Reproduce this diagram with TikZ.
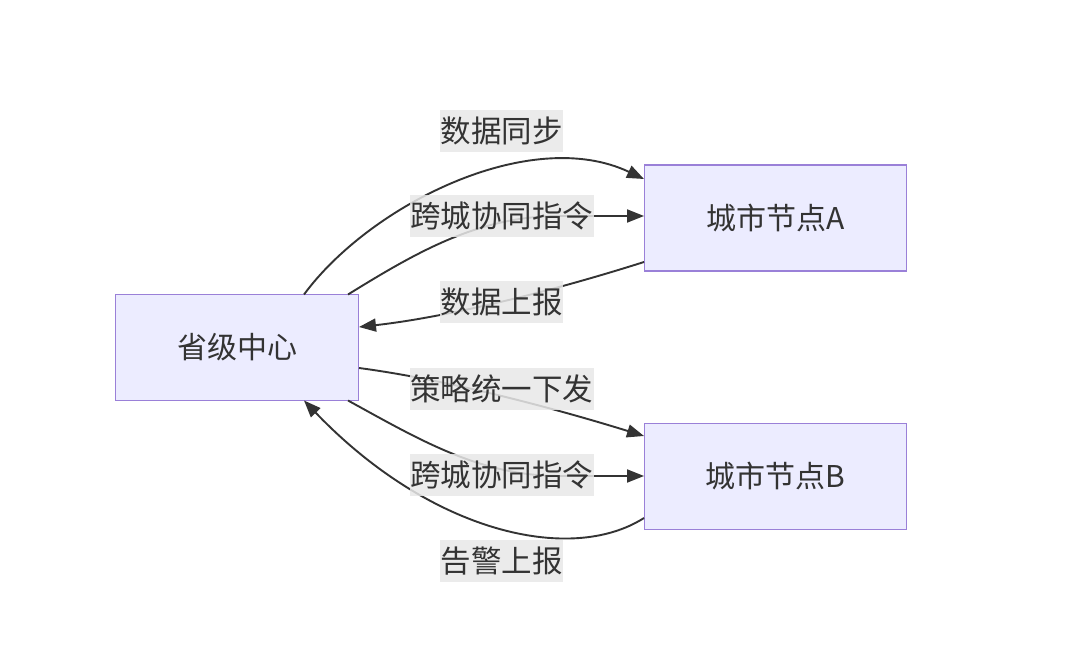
\documentclass[tikz,border=0pt]{standalone}
\usepackage{fontspec}
\setmainfont{Noto Sans CJK SC}
\usetikzlibrary{arrows.meta}
\definecolor{nodefill}{HTML}{ECECFF}
\definecolor{nodeborder}{HTML}{9A80D8}
\definecolor{edgecol}{HTML}{333333}
\definecolor{lblfill}{HTML}{E8E8E8}
\begin{document}
\begin{tikzpicture}[x=1pt,y=-1pt,
  box/.style={draw=nodeborder,fill=nodefill,line width=1.8pt,minimum width=243pt,minimum height=106pt,inner sep=0pt,font=\fontsize{30}{36}\selectfont,text=edgecol},
  boxr/.style={box,minimum width=262pt},
  lbl/.style={fill=lblfill,fill opacity=0.85,text opacity=1,inner xsep=0.5pt,inner ysep=0pt,minimum height=42pt,font=\fontsize{30.5}{36}\selectfont,text=edgecol},
  edge/.style={draw=edgecol,line width=1.9pt,-{Triangle[length=17pt,width=13pt]}}]
\useasboundingbox (0,0) rectangle (1080,658);
\fill[white] (0,0) rectangle (1080,658);
\node[box] (P) at (237,347.5) {省级中心};
\node[boxr] (A) at (775.5,218) {城市节点A};
\node[boxr] (B) at (775.5,476.5) {城市节点B};
\coordinate (p1) at (304,294.5);
\coordinate (p2) at (348,294.5);
\coordinate (p3) at (359,327);
\coordinate (p4) at (359,368);
\coordinate (p5) at (348,400.5);
\coordinate (p6) at (304,400.5);
\coordinate (a1) at (644,179);
\coordinate (a2) at (644,216);
\coordinate (a3) at (644,262);
\coordinate (b1) at (644,436);
\coordinate (b2) at (644,476);
\coordinate (b3) at (644,518);
% edges
\draw[edge] (p1) .. controls (370,205) and (530,125) .. (a1);
\draw[edge] (p2) .. controls (420,250) and (480,216) .. (560,216) -- (a2);
\draw[edge] (a3) .. controls (540,295) and (440,318) .. (p3);
\draw[edge] (p4) .. controls (450,380) and (560,410) .. (b1);
\draw[edge] (p5) .. controls (420,440) and (480,476) .. (560,476) -- (b2);
\draw[edge] (b3) .. controls (570,565) and (430,532) .. (p6);
% labels
\node[lbl] (l1) at (501.5,131) {数据同步};
\node[lbl] (l2) at (501.5,216) {跨城协同指令};
\node[lbl] (l3) at (501.5,302) {数据上报};
\node[lbl] (l4) at (501.5,389) {策略统一下发};
\node[lbl] (l5) at (501.5,475) {跨城协同指令};
\node[lbl] (l6) at (501.5,561) {告警上报};
\end{tikzpicture}
\end{document}
